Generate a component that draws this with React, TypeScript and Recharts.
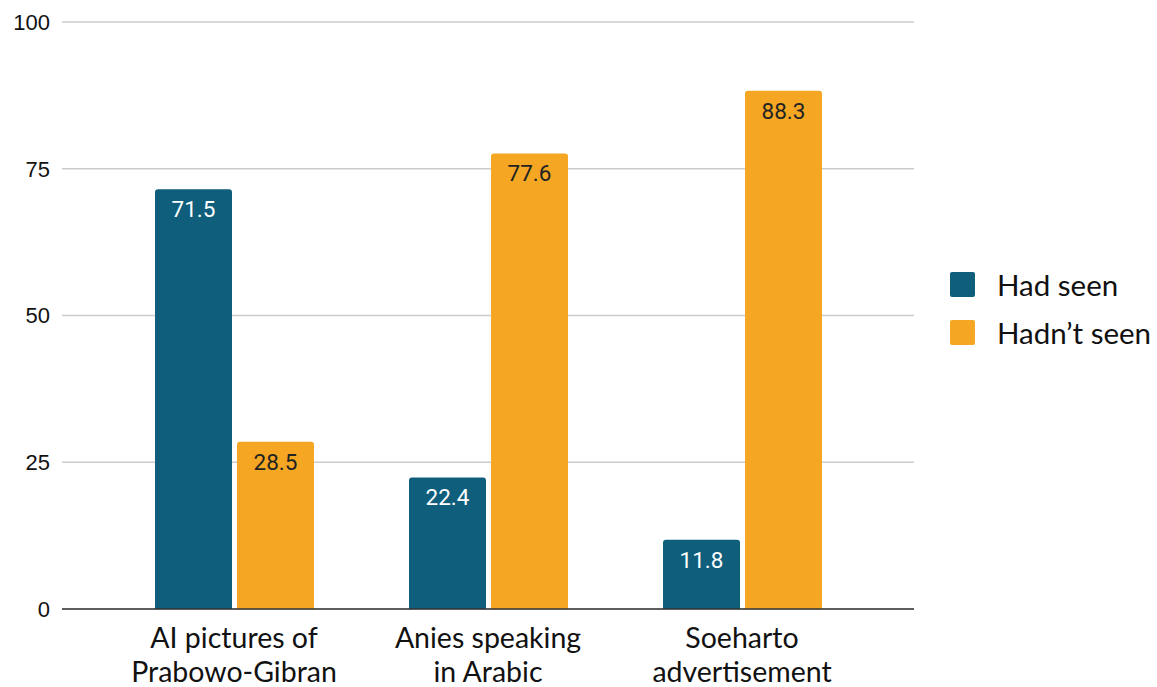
import { BarChart, Bar, XAxis, YAxis, CartesianGrid, LabelList } from "recharts"

const categories = ["AI pictures of\nPrabowo-Gibran", "Anies speaking\nin Arabic", "Soeharto\nadvertisement"]
const hadSeen = [71.5, 22.4, 11.8]
const hadntSeen = [28.5, 77.6, 88.3]
const yTicks = [0, 25, 50, 75, 100]

const TEAL = "#0f5e7c"
const ORANGE = "#f5a623"

const data = categories.map((name, i) => ({
  name,
  seen: hadSeen[i],
  notSeen: hadntSeen[i],
}))

const series = [
  { key: "seen", label: "Had seen", color: TEAL, text: "#ffffff" },
  { key: "notSeen", label: "Hadn\u2019t seen", color: ORANGE, text: "#222222" },
]

function CategoryTick({ x, y, payload }: any) {
  const lines = String(payload.value).split("\n")
  return (
    <text x={x} y={y} textAnchor="middle" fontFamily="Lato" fontSize={28.5} fill="#111">
      {lines.map((line, i) => (
        <tspan key={i} x={x} dy={i === 0 ? 39 : 34}>
          {line}
        </tspan>
      ))}
    </text>
  )
}

// legend sits to the right of the plot, outside the chart's layout
function LegendBox() {
  return (
    <div style={{ position: "absolute", left: 950, top: 260, fontFamily: "Lato", fontSize: 29.5, color: "#111" }}>
      {series.map((s) => (
        <div key={s.key} style={{ display: "flex", alignItems: "center", height: 48 }}>
          <span style={{ width: 25, height: 25, background: s.color, borderRadius: 2, marginRight: 22 }} />
          <span>{s.label}</span>
        </div>
      ))}
    </div>
  )
}

export default function App() {
  return (
    <div style={{ position: "absolute", left: 0, top: 0, width: 1157, height: 687, background: "#fff" }}>
      <BarChart
        width={1157}
        height={687}
        data={data}
        margin={{ top: 22, right: 243, bottom: 0, left: 0 }}
        barSize={77}
        barGap={5}
      >
        <CartesianGrid vertical={false} stroke="#cccccc" strokeWidth={1.5} />
        <XAxis
          dataKey="name"
          height={78}
          padding={{ left: 45, right: 45 }}
          tickLine={false}
          tickSize={0}
          tickMargin={0}
          axisLine={{ stroke: "#333", strokeWidth: 1.5 }}
          tick={<CategoryTick />}
          interval={0}
        />
        <YAxis
          width={62}
          domain={[0, 100]}
          ticks={yTicks}
          tickLine={false}
          axisLine={false}
          tickSize={0}
          tickMargin={12}
          tick={{ fontFamily: "Liberation Sans", fontSize: 22, fill: "#111" }}
        />
        {series.map((s) => (
          <Bar key={s.key} dataKey={s.key} name={s.label} fill={s.color} radius={[3, 3, 0, 0]} isAnimationActive={false}>
            <LabelList
              dataKey={s.key}
              position="insideTop"
              offset={12}
              fill={s.text}
              fontFamily="Roboto"
              fontSize={22.5}
            />
          </Bar>
        ))}
      </BarChart>
      <LegendBox />
    </div>
  )
}
